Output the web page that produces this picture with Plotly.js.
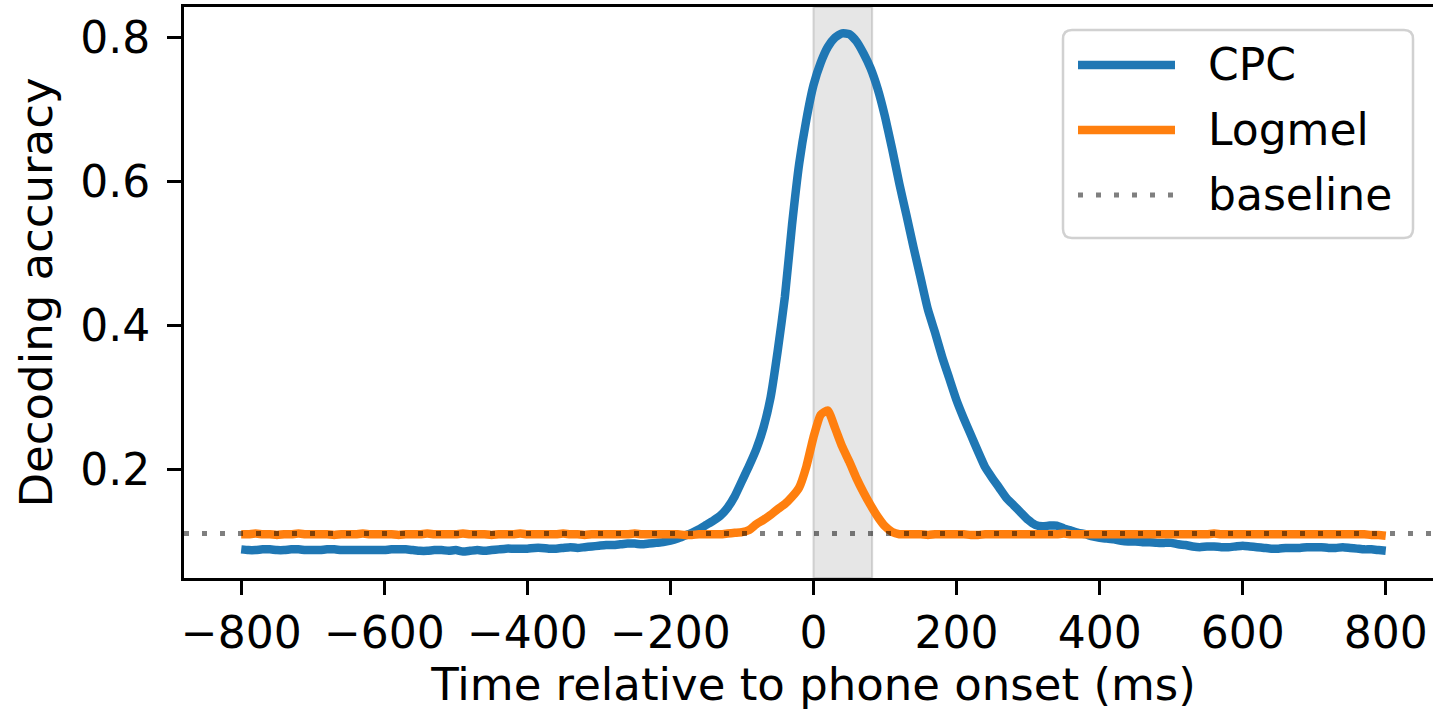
<!DOCTYPE html>
<html><head><meta charset="utf-8">
<script src="https://cdn.plot.ly/plotly-3.0.1.min.js"></script>
<style>html,body{margin:0;padding:0;overflow:hidden;background:#fff}#chart{width:1460px;height:712px}</style>
</head><body><div id="chart"></div>
<script>
const timeMs = [
-800,-790,-780,-770,-760,-750,-740,-730,-720,-710,
-700,-690,-680,-670,-660,-650,-640,-630,-620,-610,
-600,-590,-580,-570,-560,-550,-540,-530,-520,-510,
-500,-490,-480,-470,-460,-450,-440,-430,-420,-410,
-400,-390,-380,-370,-360,-350,-340,-330,-320,-310,
-300,-290,-280,-270,-260,-250,-240,-230,-220,-210,
-200,-190,-180,-170,-160,-150,-140,-130,-120,-110,
-100,-90,-80,-70,-60,-50,-40,-30,-20,-10,
0,10,20,30,40,50,60,70,80,90,
100,110,120,130,140,150,160,170,180,190,
200,210,220,230,240,250,260,270,280,290,
300,310,320,330,340,350,360,370,380,390,
400,410,420,430,440,450,460,470,480,490,
500,510,520,530,540,550,560,570,580,590,
600,610,620,630,640,650,660,670,680,690,
700,710,720,730,740,750,760,770,780,790,
800];
const cpcAccuracy = [
0.089,0.088,0.088,0.089,0.089,0.088,0.088,0.089,0.089,0.088,
0.088,0.088,0.089,0.089,0.088,0.088,0.088,0.088,0.088,0.088,
0.088,0.089,0.089,0.089,0.088,0.087,0.087,0.088,0.088,0.087,
0.088,0.086,0.087,0.088,0.087,0.088,0.089,0.090,0.090,0.090,
0.090,0.091,0.091,0.090,0.090,0.091,0.092,0.091,0.092,0.093,
0.094,0.095,0.095,0.096,0.097,0.097,0.096,0.097,0.098,0.099,
0.101,0.104,0.108,0.112,0.117,0.123,0.129,0.136,0.147,0.163,
0.184,0.205,0.228,0.258,0.300,0.365,0.440,0.540,0.625,0.686,
0.734,0.765,0.787,0.800,0.806,0.805,0.795,0.778,0.757,0.728,
0.690,0.645,0.597,0.553,0.508,0.465,0.422,0.390,0.356,0.326,
0.296,0.271,0.248,0.225,0.203,0.188,0.174,0.160,0.150,0.140,
0.130,0.123,0.121,0.122,0.122,0.118,0.115,0.112,0.110,0.107,
0.105,0.104,0.103,0.101,0.100,0.100,0.099,0.099,0.098,0.098,
0.098,0.096,0.095,0.093,0.092,0.093,0.093,0.092,0.092,0.093,
0.094,0.093,0.092,0.091,0.090,0.090,0.091,0.091,0.091,0.092,
0.092,0.092,0.091,0.091,0.092,0.091,0.090,0.089,0.089,0.088,
0.087];
const logmelAccuracy = [
0.110,0.110,0.111,0.110,0.110,0.109,0.110,0.110,0.111,0.110,
0.110,0.110,0.110,0.109,0.110,0.110,0.110,0.111,0.110,0.110,
0.110,0.110,0.109,0.110,0.110,0.110,0.111,0.110,0.110,0.110,
0.110,0.111,0.110,0.110,0.110,0.109,0.110,0.110,0.110,0.111,
0.110,0.110,0.110,0.110,0.110,0.111,0.110,0.110,0.109,0.110,
0.110,0.110,0.110,0.110,0.110,0.111,0.110,0.110,0.110,0.110,
0.110,0.110,0.109,0.109,0.110,0.110,0.110,0.110,0.111,0.112,
0.113,0.116,0.124,0.130,0.137,0.145,0.152,0.162,0.175,0.204,
0.245,0.276,0.282,0.258,0.232,0.211,0.188,0.168,0.150,0.134,
0.121,0.113,0.110,0.110,0.110,0.110,0.109,0.110,0.110,0.110,
0.110,0.110,0.109,0.109,0.110,0.110,0.110,0.110,0.110,0.110,
0.110,0.110,0.110,0.110,0.110,0.111,0.110,0.110,0.110,0.110,
0.110,0.110,0.110,0.110,0.110,0.110,0.110,0.110,0.110,0.110,
0.110,0.110,0.110,0.110,0.110,0.110,0.111,0.110,0.110,0.110,
0.110,0.110,0.110,0.110,0.110,0.110,0.110,0.110,0.110,0.110,
0.110,0.110,0.110,0.110,0.110,0.110,0.110,0.110,0.109,0.109,
0.108];
const baselineAccuracy = 0.111;
const phoneWindow = [0, 82];
const xTickValues = [-800, -600, -400, -200, 0, 200, 400, 600, 800];
const yTickValues = [0.2, 0.4, 0.6, 0.8];
const seriesNames = ['CPC', 'Logmel', 'baseline'];
const xTitle = 'Time relative to phone onset (ms)';
const yTitle = 'Decoding accuracy';

const FONT = 'DejaVu Sans, Verdana, sans-serif';
const BLUE = '#1f77b4', ORANGE = '#ff7f0e', BASE = 'rgba(0,0,0,0.5)';
const W = 1460, H = 712;
const PL = 184, PR = 1443, PT = 7, PB = 578;
const fx = p => (p - PL) / (PR - PL);
const fy = p => 1 - (p - PT) / (PB - PT);

function roundRect(x0, y0, x1, y1, r) {
  const rx = r / (PR - PL), ry = r / (PB - PT);
  const a = fx(x0), b = fx(x1), t = fy(y0), u = fy(y1);
  return `M${a + rx},${t} L${b - rx},${t} Q${b},${t} ${b},${t - ry} L${b},${u + ry} Q${b},${u} ${b - rx},${u} L${a + rx},${u} Q${a},${u} ${a},${u + ry} L${a},${t - ry} Q${a},${t} ${a + rx},${t} Z`;
}

const traces = [
  {x: timeMs, y: cpcAccuracy, name: seriesNames[0], type: 'scatter', mode: 'lines',
   line: {color: BLUE, width: 8.5, shape: 'spline', smoothing: 0.5}},
  {x: timeMs, y: logmelAccuracy, name: seriesNames[1], type: 'scatter', mode: 'lines',
   line: {color: ORANGE, width: 8.5, shape: 'spline', smoothing: 0.5}}
];

const legRows = [65, 130, 195];
const legStyles = [
  {color: BLUE, width: 8.5},
  {color: ORANGE, width: 8.5},
  {color: BASE, width: 5, dash: '5px,13px'}
];

const shapes = [
  {type: 'rect', xref: 'x', yref: 'paper', x0: phoneWindow[0], x1: phoneWindow[1], y0: 0, y1: 1,
   fillcolor: 'rgba(128,128,128,0.2)', line: {color: 'rgba(128,128,128,0.3)', width: 2}, layer: 'below'},
  {type: 'line', xref: 'paper', yref: 'y', x0: 0, x1: 1, y0: baselineAccuracy, y1: baselineAccuracy,
   line: {color: BASE, width: 5, dash: '5px,13px'}, layer: 'above'},
  {type: 'path', xref: 'paper', yref: 'paper', path: roundRect(1063, 30, 1413, 238, 9),
   fillcolor: 'rgba(255,255,255,0.8)', line: {color: 'rgba(204,204,204,0.9)', width: 2.5}, layer: 'above'}
];
legRows.forEach((r, i) => {
  shapes.push({type: 'line', xref: 'paper', yref: 'paper', x0: fx(1078), x1: fx(1175), y0: fy(r), y1: fy(r),
    line: legStyles[i], layer: 'above'});
});
const annotations = legRows.map((r, i) => ({
  xref: 'paper', yref: 'paper', x: fx(1206), y: fy(r - 1), xanchor: 'left', yanchor: 'middle',
  text: seriesNames[i], showarrow: false, font: {family: FONT, size: 44, color: '#000'}
}));

const axisCommon = {
  showline: true, linecolor: '#000', linewidth: 3, mirror: true,
  ticks: 'outside', ticklen: 14, tickwidth: 3, tickcolor: '#000',
  showgrid: false, zeroline: false,
  tickfont: {family: FONT, size: 44, color: '#000'}
};

const layout = {
  width: W, height: H,
  margin: {l: PL, r: W - PR, t: PT, b: H - PB},
  paper_bgcolor: '#fff', plot_bgcolor: '#fff',
  showlegend: false,
  font: {family: FONT, color: '#000'},
  xaxis: Object.assign({}, axisCommon, {
    range: [-880, 880], tickmode: 'array', tickvals: xTickValues,
    title: {text: xTitle, font: {family: FONT, size: 45, color: '#000'}, standoff: 10}
  }),
  yaxis: Object.assign({}, axisCommon, {
    range: [0.0492, 0.8426], tickmode: 'array', tickvals: yTickValues, ticklabelstandoff: 8,
    title: {text: yTitle, font: {family: FONT, size: 45, color: '#000'}, standoff: 14}
  }),
  shapes: shapes,
  annotations: annotations
};

Plotly.newPlot('chart', traces, layout, {displayModeBar: false, staticPlot: true});
</script>
</body></html>
